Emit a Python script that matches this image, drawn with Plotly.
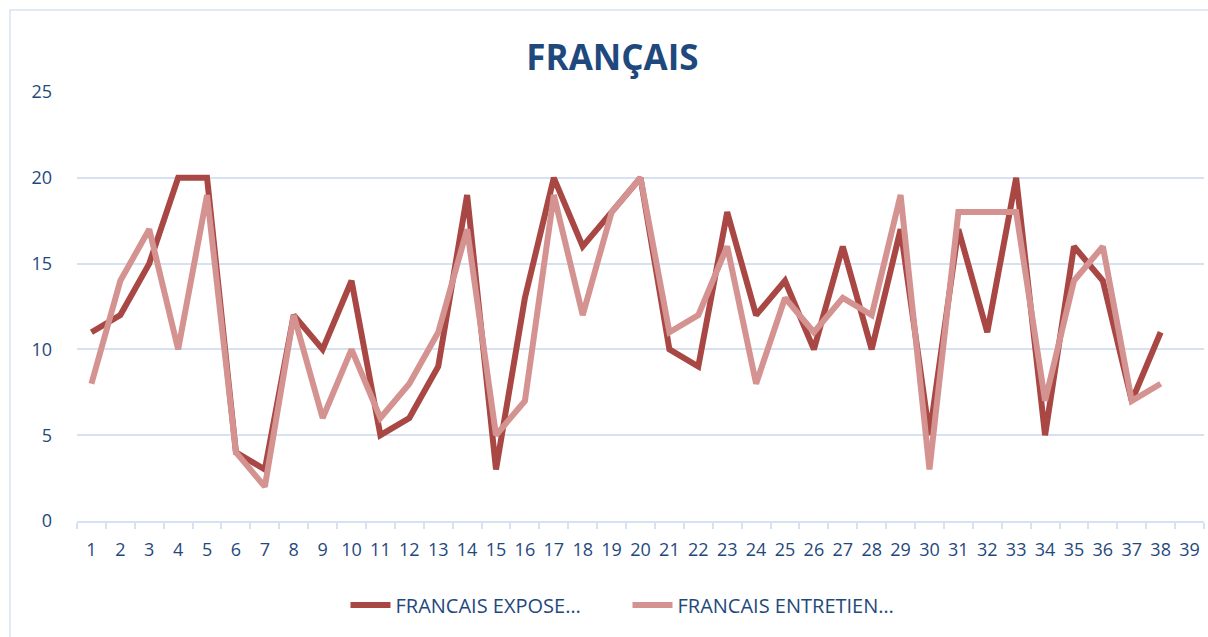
import plotly.graph_objects as go

categories = list(range(1, 40))
expose = [11, 12, 15, 20, 20, 4, 3, 12, 10, 14, 5, 6, 9, 19, 3, 13, 20, 16, 18, 20,
          10, 9, 18, 12, 14, 10, 16, 10, 17, 5, 17, 11, 20, 5, 16, 14, 7, 11]
entretien = [8, 14, 17, 10, 19, 4, 2, 12, 6, 10, 6, 8, 11, 17, 5, 7, 19, 12, 18, 20,
             11, 12, 16, 8, 13, 11, 13, 12, 19, 3, 18, 18, 18, 7, 14, 16, 7, 8]
names = ["FRANCAIS EXPOSE…", "FRANCAIS ENTRETIEN…"]
yticks = [0, 5, 10, 15, 20, 25]

TXT = "#1F497D"
GRID = "#D6E2F2"
FONT = "Open Sans"

fig = go.Figure()
fig.add_trace(go.Scatter(x=categories[:len(expose)], y=expose, mode="lines", name=names[0],
                         line=dict(color="#A84744", width=6)))
fig.add_trace(go.Scatter(x=categories[:len(entretien)], y=entretien, mode="lines", name=names[1],
                         line=dict(color="#D49391", width=6)))

fig.update_layout(
    width=1208, height=637,
    margin=dict(l=77, r=4, t=92, b=116, autoexpand=False),
    paper_bgcolor="white", plot_bgcolor="white",
    title=dict(text="<b>FRANÇAIS</b>", x=0.507, xanchor="center", y=1 - 58 / 637, yanchor="middle",
               font=dict(family=FONT, size=35, color=TXT)),
    showlegend=True,
    legend=dict(orientation="h", x=(350 - 77) / 1127 - 0.004, xanchor="left", y=(521 - 605) / 429,
                yanchor="middle", font=dict(family=FONT, size=20, color=TXT), itemwidth=40,
                entrywidth=227, entrywidthmode="pixels"),
    xaxis=dict(range=[0.5, 39.5], tickmode="array", tickvals=categories,
               ticktext=[str(c) for c in categories], ticks="", showgrid=False,
               showline=True, linecolor=GRID, linewidth=1.5, zeroline=False,
               ticklabelstandoff=12,
               tickfont=dict(family=FONT, size=18, color=TXT),
               minor=dict(tickmode="linear", tick0=0.5, dtick=1, ticks="outside",
                          ticklen=6, tickcolor=GRID, tickwidth=1.5, showgrid=False)),
    yaxis=dict(range=[0, 25], tickmode="array", tickvals=yticks, showgrid=True,
               gridcolor=GRID, gridwidth=1.5, zeroline=False, showline=False,
               ticks="", ticklabelstandoff=24,
               tickfont=dict(family=FONT, size=18, color=TXT)),
    shapes=[dict(type="rect", xref="paper", yref="paper",
                 x0=(10 - 77) / 1127, x1=(1230 - 77) / 1127,
                 y0=(521 - 660) / 429, y1=(521 - 10) / 429,
                 line=dict(color="#D6E2F2", width=1.5), layer="below")],
)

fig.write_html("out.html", config={"displayModeBar": False},
               post_script="document.body.style.margin='0';document.body.style.overflow='hidden';")
